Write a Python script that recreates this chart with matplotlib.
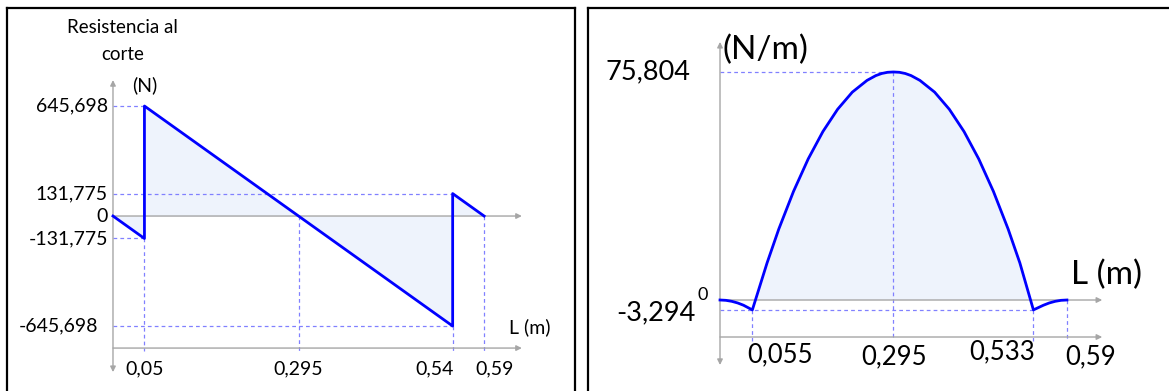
import matplotlib
matplotlib.use("Agg")
import matplotlib.pyplot as plt

plt.rcParams['font.family'] = ['Lato', 'DejaVu Sans']

# Shear diagram (N) along the beam (m)
shear_x = [0.0, 0.05, 0.05, 0.54, 0.54, 0.59]
shear_v = [0.0, -131.775, 645.698, -645.698, 131.775, 0.0]
shear_ticks_y = [645.698, 131.775, 0.0, -131.775, -645.698]
shear_labels_y = ['645,698', '131,775', '0', '-131,775', '-645,698']
shear_ticks_x = [0.05, 0.295, 0.54, 0.59]
shear_labels_x = ['0,05', '0,295', '0,54', '0,59']

# Bending moment diagram (N/m)
moment_x = [0.0, 0.01, 0.02, 0.03, 0.04, 0.055,
            0.08, 0.10, 0.125, 0.15, 0.175, 0.20, 0.225, 0.25, 0.265, 0.275, 0.285, 0.295,
            0.305, 0.315, 0.325, 0.34, 0.365, 0.39, 0.415, 0.44, 0.465, 0.49, 0.51, 0.533,
            0.55, 0.56, 0.57, 0.58, 0.59]
moment_m = [0.0, -0.11, -0.44, -0.98, -1.74, -3.294,
            12.3, 23.6, 36.1, 46.9, 56.0, 63.4, 69.1, 73.0, 74.6, 75.3, 75.7, 75.804,
            75.7, 75.3, 74.6, 73.0, 69.1, 63.4, 56.0, 46.9, 36.1, 23.6, 12.3, -3.294,
            -1.74, -0.98, -0.44, -0.11, 0.0]
moment_peak = 75.804
moment_min = -3.294
moment_ticks_x = [0.055, 0.295, 0.533, 0.59]
moment_labels_x = ['0,055', '0,295', '0,533', '0,59']

BLUE = '#0000ff'
GUIDE = '#8080ff'
FILL = '#eef3fc'
GRAY = '#a6a6a6'

W, H = 1169, 391
fig = plt.figure(figsize=(W / 100, H / 100), dpi=100)


def make_panel(x0, x1, top):
    ax = fig.add_axes([x0 / W, 0, (x1 - x0) / W, (H - top) / H])
    ax.set_xticks([])
    ax.set_yticks([])
    ax.spines['bottom'].set_visible(False)
    for s in ax.spines.values():
        s.set_linewidth(1.6)
    return ax


def arrow(ax, p0, p1, style='-|>'):
    ax.annotate('', xy=p1, xytext=p0,
                arrowprops=dict(arrowstyle=style, color=GRAY, lw=1.0,
                                mutation_scale=8, shrinkA=0, shrinkB=0))


def guide(ax, xs, ys):
    ax.plot(xs, ys, color=GUIDE, lw=0.9, dashes=(3, 2.5), zorder=2)


# ---------------- left panel: shear ----------------
ax1 = make_panel(7, 575, 8)
ax1.set_xlim(-0.1685, 0.7345)
ax1.set_ylim(-1027, 1221)

low1 = -775
arrow(ax1, (0, -916), (0, 798), '<|-|>')
arrow(ax1, (0, 0), (0.65, 0))
arrow(ax1, (0, low1), (0.65, low1))

guide(ax1, [0, 0.05], [645.698, 645.698])
guide(ax1, [0, 0.54], [131.775, 131.775])
guide(ax1, [0, 0.05], [-131.775, -131.775])
guide(ax1, [0, 0.54], [-645.698, -645.698])
guide(ax1, [0.05, 0.05], [-131.775, low1 - 15])
guide(ax1, [0.295, 0.295], [0, low1 - 15])
guide(ax1, [0.54, 0.54], [-645.698, low1 - 15])
guide(ax1, [0.59, 0.59], [0, low1 - 15])

ax1.fill_between(shear_x, shear_v, 0, color=FILL, zorder=1, lw=0)
ax1.plot(shear_x, shear_v, color=BLUE, lw=2.0, zorder=3)

for v, lab in zip(shear_ticks_y, shear_labels_y):
    dx = -0.024 if v == -645.698 else -0.008
    ax1.text(dx, v, lab, ha='right', va='center', fontsize=14)
x_shift = {0.54: -0.028, 0.59: 0.017}
for v, lab in zip(shear_ticks_x, shear_labels_x):
    ax1.text(v + x_shift.get(v, 0), -895, lab, ha='center', va='center', fontsize=14)

ax1.text(0.015, 1105, 'Resistencia al', ha='center', va='center', fontsize=13.5)
ax1.text(0.015, 950, 'corte', ha='center', va='center', fontsize=13.5)
ax1.text(0.051, 770, '(N)', ha='center', va='center', fontsize=14)
ax1.text(0.662, -650, 'L (m)', ha='center', va='center', fontsize=14)

# ---------------- right panel: moment ----------------
ax2 = make_panel(588, 1169 + 5, 8)
ax2.spines['right'].set_visible(False)
ax2.set_xlim(-0.2245, 0.7721)
ax2.set_ylim(-30.25, 97.07)

low2 = -12.3
arrow(ax2, (0, -21.6), (0, 85.8), '<|-|>')
arrow(ax2, (0, 0), (0.65, 0))
arrow(ax2, (0, low2), (0.65, low2))

guide(ax2, [0, 0.295], [moment_peak, moment_peak])
guide(ax2, [0.295, 0.295], [moment_peak, low2 - 1])
guide(ax2, [0, 0.533], [moment_min, moment_min])
guide(ax2, [0.055, 0.055], [moment_min, low2 - 1.2])
guide(ax2, [0.533, 0.533], [moment_min, low2 - 1.2])
guide(ax2, [0.59, 0.59], [0, low2 - 1.2])

ax2.fill_between(moment_x, moment_m, 0, where=[m >= 0 for m in moment_m],
                 color=FILL, zorder=1, lw=0, interpolate=True)
ax2.plot(moment_x, moment_m, color=BLUE, lw=2.0, zorder=3)

ax2.text(-0.05, moment_peak, '75,804', ha='right', va='center', fontsize=19.5)
ax2.text(-0.042, -4.2, '-3,294', ha='right', va='center', fontsize=19.5)
ax2.text(-0.03, 1.7, '0', ha='center', va='center', fontsize=13)
ax2.text(0.005, 83, '(N/m)', ha='left', va='center', fontsize=24)
ax2.text(0.657, 8.3, 'L (m)', ha='center', va='center', fontsize=24)

label_pos = {0.055: (0.102, -18.3), 0.295: (0.296, -19.0),
             0.533: (0.479, -17.3), 0.59: (0.631, -19.0)}
for v, lab in zip(moment_ticks_x, moment_labels_x):
    px, py = label_pos[v]
    ax2.text(px, py, lab, ha='center', va='center', fontsize=18.5)

fig.savefig('out.png', dpi=100)
